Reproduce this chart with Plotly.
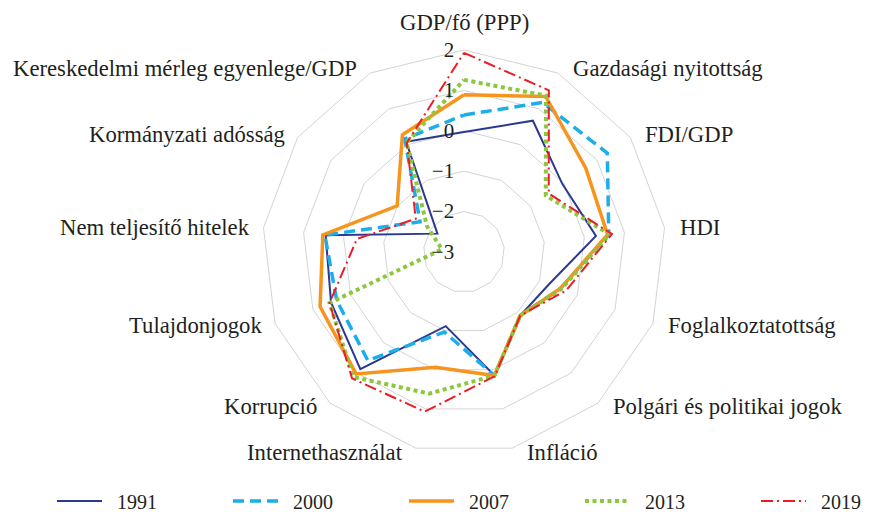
import math
import plotly.graph_objects as go

categories = [
    "GDP/fő (PPP)", "Gazdasági nyitottság", "FDI/GDP", "HDI",
    "Foglalkoztatottság", "Polgári és politikai jogok", "Infláció",
    "Internethasználat", "Korrupció", "Tulajdonjogok",
    "Nem teljesítő hitelek", "Kormányzati adósság",
    "Kereskedelmi mérleg egyenlege/GDP",
]
years = ["1991", "2000", "2007", "2013", "2019"]
v1991 = [-0.03, 0.67, -0.04, 0.29, -0.75, -0.90, 0.15, -1.11, 0.87, 0.52, 0.45, -2.20, 0.08]
v2000 = [0.39, 1.18, 1.31, 0.61, -0.45, -0.90, 0.15, -0.96, 0.59, 0.37, 0.47, -1.68, 0.16]
v2007 = [0.89, 1.35, 0.66, 0.58, -0.45, -0.90, 0.15, -0.06, 1.03, 0.81, 0.52, -0.99, 0.28]
v2013 = [1.26, 1.37, -0.54, 0.63, -0.42, -0.90, 0.15, 0.61, 1.13, 0.56, -2.45, -1.89, 0.06]
v2019 = [1.93, 1.52, -0.45, 0.69, -0.30, -0.90, 0.17, 1.07, 1.18, 0.56, -0.33, -1.55, 0.05]
radial_ticks = [-3, -2, -1, 0, 1, 2]
radial_text = ["−3", "−2", "−1", "0", "1", "2"]

styles = {
    "1991": dict(color="#2B3990", width=2, dash="solid"),
    "2000": dict(color="#1CAEEA", width=3.5, dash="11px,6px"),
    "2007": dict(color="#F7941D", width=3.5, dash="solid"),
    "2013": dict(color="#8DC63F", width=4, dash="4px,3.5px"),
    "2019": dict(color="#ED1C24", width=2, dash="12px,4px,2px,4px"),
}
values = [v1991, v2000, v2007, v2013, v2019]

fig = go.Figure()
for name, vals in zip(years, values):
    fig.add_trace(go.Scatterpolar(
        r=vals + [vals[0]],
        theta=categories + [categories[0]],
        mode="lines",
        name="\u00a0\u00a0" + name,   # small gap between legend line and label
        line=styles[name],
    ))

W, H = 877, 512
# the page body adds an 8px offset, so figure coordinates are screen minus 8
cx, cy, R = 456, 244, 202
TEXT = "#231F20"
FONT = "Liberation Serif"
LABEL_SIZE = 22.7

# category labels placed just outside each vertex of the polygon grid
n = len(categories)
annotations = []
for i, cat in enumerate(categories):
    ang = math.radians(90 - i * 360 / n)
    c, s = math.cos(ang), math.sin(ang)
    vx = (cx + R * c) / W
    vy = 1 - (cy - R * s) / H
    if abs(c) < 0.1:
        annotations.append(dict(x=vx, y=vy, xref="paper", yref="paper", text=cat,
                                showarrow=False, xanchor="center", yanchor="middle",
                                yshift=28, font=dict(size=LABEL_SIZE, family=FONT, color=TEXT)))
    else:
        annotations.append(dict(x=vx, y=vy, xref="paper", yref="paper", text=cat,
                                showarrow=False, xanchor="left" if c > 0 else "right",
                                yanchor="middle", xshift=13 if c > 0 else -11,
                                yshift=5 * s,
                                font=dict(size=LABEL_SIZE, family=FONT, color=TEXT)))

fig.update_layout(
    width=W, height=H,
    margin=dict(l=0, r=0, t=0, b=0, autoexpand=False),
    paper_bgcolor="white",
    font=dict(family=FONT, size=20, color=TEXT),
    polar=dict(
        domain=dict(x=[(cx - R) / W, (cx + R) / W],
                    y=[(H - cy - R) / H, (H - cy + R) / H]),
        bgcolor="white",
        gridshape="linear",
        radialaxis=dict(
            range=[-3, 2], tickvals=radial_ticks, ticktext=radial_text,
            angle=90, tickangle=90, side="counterclockwise", showline=False,
            gridcolor="#D4D4D4", gridwidth=1,
            ticks="outside", ticklen=2, tickcolor="rgba(0,0,0,0)",
            tickfont=dict(size=21, family=FONT, color=TEXT),
        ),
        angularaxis=dict(
            direction="clockwise", rotation=90, showgrid=False,
            showline=True, linecolor="#D4D4D4", linewidth=1, ticks="",
            showticklabels=False,
        ),
    ),
    annotations=annotations,
    legend=dict(
        orientation="h", x=44 / W, y=19 / H, xanchor="left", yanchor="middle",
        itemwidth=45, entrywidth=116, entrywidthmode="pixels",
        font=dict(size=20, family=FONT, color=TEXT),
        bgcolor="rgba(0,0,0,0)",
    ),
)
fig.write_html("out.html")
